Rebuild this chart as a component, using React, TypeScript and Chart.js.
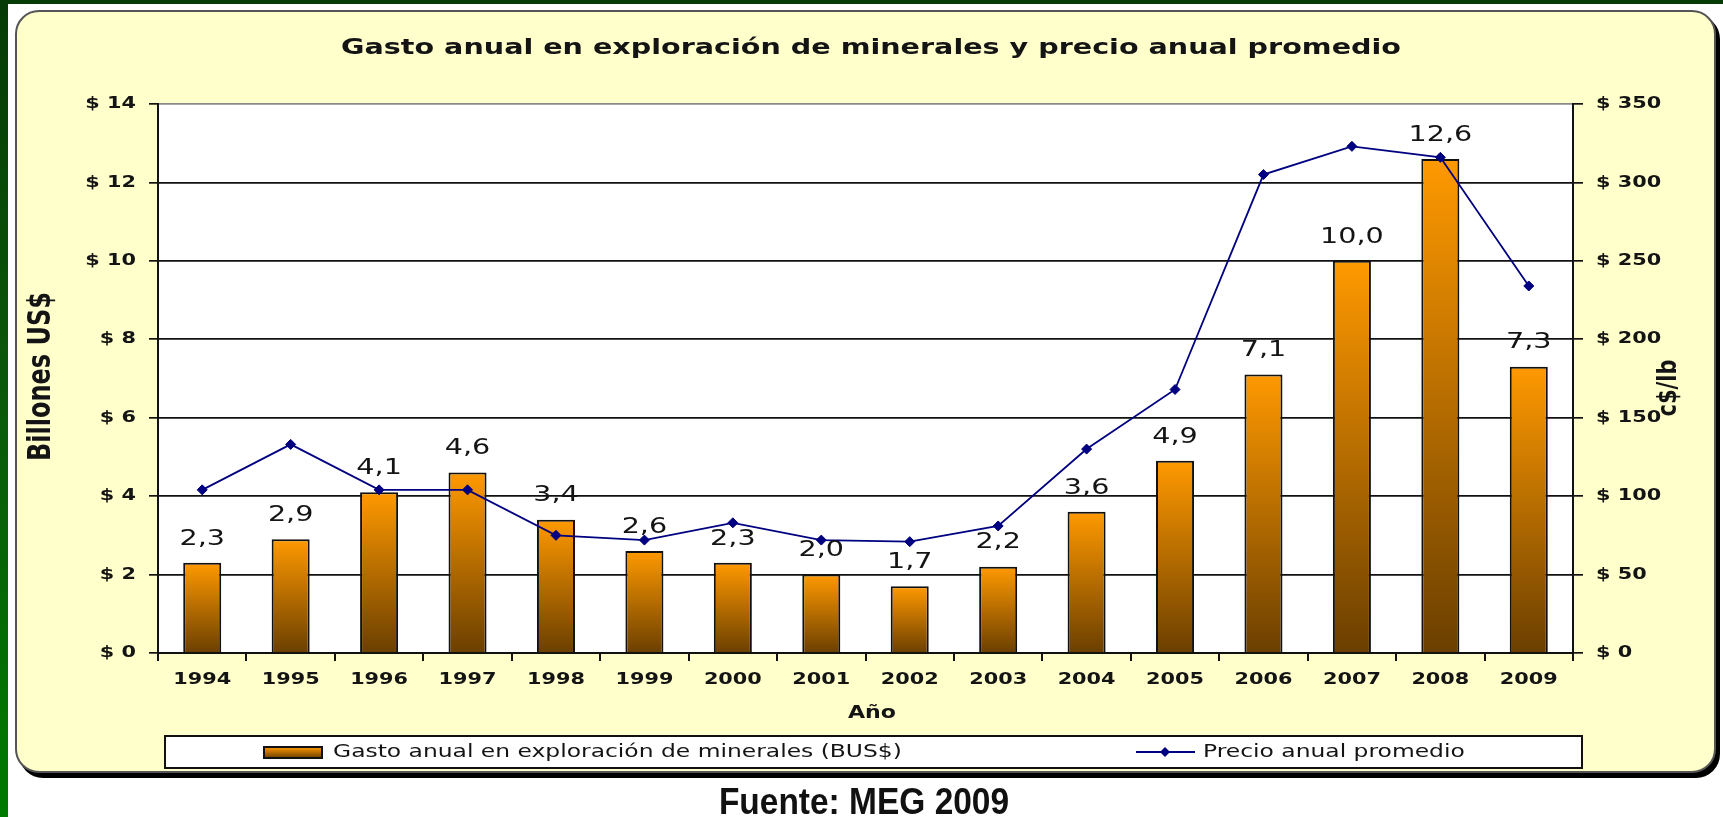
import React, { useEffect, useRef } from 'react';
import { Chart, registerables } from 'chart.js';

Chart.register(...registerables);

// ---------- data ----------
const years = ['1994', '1995', '1996', '1997', '1998', '1999', '2000', '2001', '2002', '2003', '2004', '2005', '2006', '2007', '2008', '2009'];
const gastoExploracion = [2.3, 2.9, 4.1, 4.6, 3.4, 2.6, 2.3, 2.0, 1.7, 2.2, 3.6, 4.9, 7.1, 10.0, 12.6, 7.3];
const precioPromedio = [104, 133, 104, 104, 75, 72, 83, 72, 71, 81, 130, 168, 305, 323, 316, 234];
const leftAxisRange = [0, 14, 2];
const rightAxisRange = [0, 350, 50];

const chartTitle = 'Gasto anual en exploración de minerales y precio anual promedio';
const barLabel = 'Gasto anual en exploración de minerales (BUS$)';
const lineLabel = 'Precio anual promedio';
const xTitle = 'Año';
const yLeftTitle = 'Billones US$';
const yRightTitle = 'c$/lb';
const sourceText = 'Fuente: MEG 2009';

// ---------- style ----------
const W = 1723;
const H = 817;
const FONT = "'DejaVu Sans', Verdana, sans-serif";
const STRETCH = 1.3;
const ORANGE = '#FF9900';
const BROWN = '#6B3F00';
const NAVY = '#000080';
const INK = '#141414';

function stretchText(ctx: any) {
  if (ctx.__stretched) return;
  ctx.__stretched = true;
  const orig = ctx.fillText.bind(ctx);
  ctx.fillText = function (text: string, x: number, y: number, maxWidth?: number) {
    const m = ctx.getTransform();
    const p = m.transformPoint(new DOMPoint(x, y));
    const s = new DOMMatrix().translate(p.x, p.y).scale(STRETCH, 1).translate(-p.x, -p.y).multiply(m);
    ctx.save();
    ctx.setTransform(s);
    if (maxWidth === undefined) orig(text, x, y);
    else orig(text, x, y, maxWidth);
    ctx.restore();
  };
}

function barGradient(ctx: CanvasRenderingContext2D, top: number, bottom: number) {
  const g = ctx.createLinearGradient(0, top, 0, bottom);
  g.addColorStop(0, ORANGE);
  g.addColorStop(1, BROWN);
  return g;
}

function diamond(ctx: CanvasRenderingContext2D, x: number, y: number, r: number) {
  ctx.beginPath();
  ctx.moveTo(x, y - r);
  ctx.lineTo(x + r, y);
  ctx.lineTo(x, y + r);
  ctx.lineTo(x - r, y);
  ctx.closePath();
  ctx.fill();
}

const decorPlugin = {
  id: 'decor',
  beforeDraw(chart: any) {
    const { ctx, chartArea: a } = chart;
    ctx.save();
    ctx.fillStyle = '#ffffff';
    ctx.fillRect(a.left, a.top, a.right - a.left, a.bottom - a.top);
    ctx.restore();
  },
  afterDatasetsDraw(chart: any) {
    const { ctx } = chart;
    const meta = chart.getDatasetMeta(0);
    ctx.save();
    ctx.font = `22px ${FONT}`;
    ctx.fillStyle = INK;
    ctx.textAlign = 'center';
    ctx.textBaseline = 'middle';
    meta.data.forEach((el: any, i: number) => {
      const v = gastoExploracion[i];
      ctx.fillText(v.toFixed(1).replace('.', ','), el.x, el.y - 24);
    });
    ctx.restore();
  },
  afterDraw(chart: any) {
    const { ctx, chartArea: a } = chart;
    ctx.save();
    ctx.fillStyle = INK;
    ctx.textAlign = 'center';
    ctx.textBaseline = 'middle';

    // title
    ctx.font = `bold 22px ${FONT}`;
    ctx.fillText(chartTitle, 871, 48);

    // x title
    ctx.font = `bold 17px ${FONT}`;
    ctx.fillText(xTitle, 872, 714);

    // y titles
    ctx.save();
    ctx.translate(42, (a.top + a.bottom) / 2 - 2);
    ctx.rotate(-Math.PI / 2);
    ctx.font = `bold 24px ${FONT}`;
    ctx.fillText(yLeftTitle, 0, 0);
    ctx.restore();

    ctx.save();
    ctx.translate(1669, 388);
    ctx.rotate(-Math.PI / 2);
    ctx.font = `bold 21px ${FONT}`;
    ctx.fillText(yRightTitle, 0, 0);
    ctx.restore();

    // legend
    const lx = 165, ly = 736, lw = 1417, lh = 32;
    ctx.fillStyle = '#ffffff';
    ctx.fillRect(lx, ly, lw, lh);
    ctx.strokeStyle = '#111';
    ctx.lineWidth = 2;
    ctx.strokeRect(lx, ly, lw, lh);

    const cy = ly + lh / 2;
    ctx.fillStyle = barGradient(ctx, cy - 5, cy + 6);
    ctx.fillRect(264, cy - 5, 58, 11);
    ctx.lineWidth = 2;
    ctx.strokeStyle = '#111';
    ctx.strokeRect(264, cy - 5, 58, 11);

    ctx.strokeStyle = NAVY;
    ctx.lineWidth = 2;
    ctx.beginPath();
    ctx.moveTo(1136, cy);
    ctx.lineTo(1195, cy);
    ctx.stroke();
    ctx.fillStyle = NAVY;
    diamond(ctx, 1165, cy, 5);

    ctx.fillStyle = INK;
    ctx.textAlign = 'left';
    ctx.font = `18px ${FONT}`;
    ctx.fillText(chart.data.datasets[0].label, 333, cy);
    ctx.fillText(chart.data.datasets[1].label, 1203, cy);
    ctx.restore();
  },
};

export default function App() {
  const canvasRef = useRef<HTMLCanvasElement | null>(null);

  useEffect(() => {
    const canvas = canvasRef.current;
    if (!canvas) return;
    const ctx = canvas.getContext('2d');
    if (!ctx) return;
    stretchText(ctx);

    const tickFont = { family: FONT, size: 16, weight: 'bold' as const };

    const chart = new Chart(canvas, {
      type: 'bar',
      data: {
        labels: years,
        datasets: [
          {
            type: 'bar',
            label: barLabel,
            data: gastoExploracion,
            yAxisID: 'y',
            order: 1,
            barPercentage: 0.43,
            categoryPercentage: 1,
            borderColor: '#111',
            borderWidth: 2,
            backgroundColor: (c: any) => {
              const ch = c.chart;
              const ys = ch.scales && ch.scales.y;
              if (c.type !== 'data' || !ch.chartArea || !ys) return '#D98300';
              return barGradient(ch.ctx, ys.getPixelForValue(c.raw), ys.getPixelForValue(0));
            },
          } as any,
          {
            type: 'line',
            label: lineLabel,
            data: precioPromedio,
            yAxisID: 'y1',
            order: 0,
            borderColor: NAVY,
            borderWidth: 1.8,
            backgroundColor: NAVY,
            pointStyle: 'rectRot',
            pointRadius: 5,
            pointBackgroundColor: NAVY,
            pointBorderColor: NAVY,
            pointBorderWidth: 1,
            tension: 0,
            fill: false,
          } as any,
        ],
      },
      options: {
        responsive: false,
        animation: false,
        events: [],
        layout: { padding: { top: 104, left: 0, right: 0, bottom: 0 } },
        plugins: {
          legend: { display: false },
          title: { display: false },
          tooltip: { enabled: false },
        },
        scales: {
          x: {
            type: 'category',
            grid: { offset: true, drawOnChartArea: false, color: '#111', lineWidth: 2, tickLength: 8 },
            border: { color: '#111', width: 2 },
            ticks: { font: tickFont, color: INK, padding: 9, maxRotation: 0, autoSkip: false },
            afterFit: (s: any) => { s.height = 164; },
          },
          y: {
            type: 'linear',
            position: 'left',
            min: leftAxisRange[0],
            max: leftAxisRange[1],
            ticks: {
              stepSize: leftAxisRange[2],
              callback: (v: any) => '$ ' + v,
              font: tickFont,
              color: INK,
              padding: 13,
            },
            grid: {
              color: (c: any) => (c.tick && c.tick.value === leftAxisRange[1] ? '#8a8a8a' : '#111'),
              tickColor: '#111',
              lineWidth: 1.7,
              tickLength: 9,
            },
            border: { color: '#111', width: 2 },
            afterFit: (s: any) => { s.width = 158; },
          },
          y1: {
            type: 'linear',
            position: 'right',
            min: rightAxisRange[0],
            max: rightAxisRange[1],
            ticks: {
              stepSize: rightAxisRange[2],
              callback: (v: any) => '$ ' + v,
              font: tickFont,
              color: INK,
              padding: 13,
            },
            grid: { drawOnChartArea: false, color: '#111', lineWidth: 1.7, tickLength: 10 },
            border: { color: '#111', width: 2 },
            afterFit: (s: any) => { s.width = 150; },
          },
        },
      } as any,
      plugins: [decorPlugin as any],
    });

    return () => chart.destroy();
  }, []);

  return (
    <div style={{ position: 'absolute', left: 0, top: 0, width: W, height: H, overflow: 'hidden', background: '#ffffff' }}>
      <div style={{ position: 'absolute', left: 0, top: 0, width: W, height: 4, background: '#063a06' }} />
      <div
        style={{
          position: 'absolute',
          left: 0,
          top: 0,
          width: 8,
          height: H,
          background: 'linear-gradient(to bottom, #063a06 0%, #0a5a0a 50%, #007a00 100%)',
        }}
      />
      <div
        style={{
          position: 'absolute',
          left: 15,
          top: 10,
          width: 1701,
          height: 763,
          boxSizing: 'border-box',
          background: '#FFFFCC',
          border: '2px solid #555',
          borderRadius: 24,
          boxShadow: '4px 5px 0 #000',
        }}
      />
      <canvas ref={canvasRef} width={W} height={H} style={{ position: 'absolute', left: 0, top: 0, width: W, height: H }} />
      <div
        style={{
          position: 'absolute',
          left: 664,
          top: 784,
          width: 400,
          textAlign: 'center',
          fontFamily: "'Liberation Sans', Arial, sans-serif",
          fontWeight: 'bold',
          fontSize: 36,
          lineHeight: '36px',
          color: '#111',
          transform: 'scaleX(0.93)',
          whiteSpace: 'nowrap',
        }}
      >
        {sourceText}
      </div>
    </div>
  );
}
